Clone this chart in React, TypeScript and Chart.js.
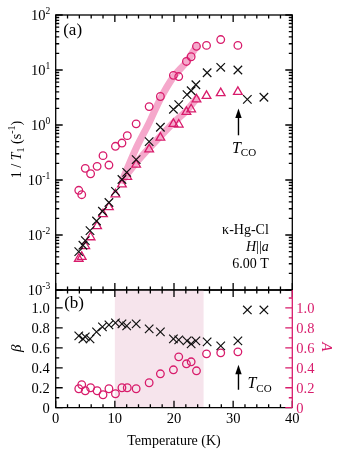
import React, { useEffect, useRef } from 'react';
import { Chart, registerables } from 'chart.js';

Chart.register(...registerables);

// ---------------- data ----------------
// single-exponential fit (black crosses)
const tempSingle = [3.9, 4.6, 5.0, 5.8, 6.9, 7.9, 9.0, 10.1, 11.2, 12.0, 13.6, 15.8, 17.7, 19.9, 20.8, 22.2, 22.9, 23.7, 25.6, 27.9, 30.8, 32.4, 35.2];
const rateSingle = [0.005, 0.0065, 0.0079, 0.012, 0.018, 0.027, 0.039, 0.062, 0.102, 0.138, 0.234, 0.5, 0.91, 1.93, 2.35, 3.57, 4.2, 5.4, 8.9, 11.2, 10.0, 2.93, 3.2];
const betaSingle = [0.72, 0.69, 0.71, 0.69, 0.76, 0.81, 0.83, 0.85, 0.84, 0.82, 0.84, 0.79, 0.76, 0.69, 0.68, 0.67, 0.64, 0.67, 0.66, 0.62, 0.67, 0.98, 0.98];

// two-component fit (pink circles = fast, pink triangles = slow)
const tempTwo = [3.9, 4.4, 5.0, 5.9, 7.0, 8.0, 9.0, 10.1, 11.2, 12.1, 13.6, 15.8, 17.7, 19.9, 20.8, 22.1, 22.9, 23.8, 25.5, 27.9, 30.8];
const rateFast = [0.065, 0.054, 0.163, 0.13, 0.177, 0.277, 0.187, 0.41, 0.47, 0.64, 1.05, 2.16, 3.3, 8.0, 7.6, 14.3, 17.4, 27, 28, 35.8, 28];
const rateSlow = [0.0037, 0.004, 0.0063, 0.0091, 0.0145, 0.024, 0.032, 0.055, 0.083, 0.114, 0.19, 0.36, 0.59, 1.05, 1.02, 1.73, 1.93, 2.93, 3.38, 3.8, 4.0];
const weightFast = [0.19, 0.23, 0.17, 0.2, 0.17, 0.13, 0.19, 0.14, 0.2, 0.2, 0.19, 0.25, 0.34, 0.38, 0.51, 0.44, 0.46, 0.37, 0.54, 0.55, 0.56];

// thick guide curves
const guideTemps = [11.3, 13.5, 15.8, 17.7, 19.9, 22.1, 23.8];
const guideFast = [0.1, 0.36, 1.1, 3.0, 7.5, 14, 27];
const guideSlow = [0.1, 0.2, 0.38, 0.62, 1.1, 1.8, 3.0];

// axes
const xRange = [0, 40];
const xMajorTicks = [0, 10, 20, 30, 40];
const logExponents = [-3, -2, -1, 0, 1, 2];
const linTicks = [0, 0.2, 0.4, 0.6, 0.8, 1.0];
const linTickLabels = ['0', '0.2', '0.4', '0.6', '0.8', '1.0'];
const linMax = 1.18;
const shadeRange = [10, 25];
const tcoTemp = 30.9;
const tcoArrowTop = [0.65, 2.0];
const tcoArrowBottom = [0.18, 0.43];

// ---------------- styles ----------------
const PINK = '#d81b6b';
const BAND = '#f5a8cb';
const SHADE = '#f6e4ec';
const SERIF = '"Liberation Serif", "Times New Roman", "DejaVu Serif", serif';

type Seg = { t: string; size: number; italic?: boolean; dy?: number; color?: string };

const font = (size: number, italic?: boolean) => `${italic ? 'italic ' : ''}${size}px ${SERIF}`;

function richWidth(ctx: CanvasRenderingContext2D, segs: Seg[]) {
  let w = 0;
  for (const s of segs) {
    ctx.font = font(s.size, s.italic);
    w += ctx.measureText(s.t).width;
  }
  return w;
}

function drawRich(ctx: CanvasRenderingContext2D, segs: Seg[], x: number, y: number, align: 'left' | 'center' | 'right', color = '#000') {
  const w = richWidth(ctx, segs);
  let cx = align === 'left' ? x : align === 'center' ? x - w / 2 : x - w;
  ctx.textAlign = 'left';
  ctx.textBaseline = 'alphabetic';
  for (const s of segs) {
    ctx.font = font(s.size, s.italic);
    ctx.fillStyle = s.color || color;
    ctx.fillText(s.t, cx, y + (s.dy || 0));
    cx += ctx.measureText(s.t).width;
  }
}

function drawArrow(ctx: CanvasRenderingContext2D, x: number, tailY: number, tipY: number) {
  ctx.strokeStyle = '#000';
  ctx.fillStyle = '#000';
  ctx.lineWidth = 1.4;
  ctx.beginPath();
  ctx.moveTo(x, tailY);
  ctx.lineTo(x, tipY + 6);
  ctx.stroke();
  ctx.beginPath();
  ctx.moveTo(x, tipY);
  ctx.lineTo(x - 3.2, tipY + 9.5);
  ctx.lineTo(x + 3.2, tipY + 9.5);
  ctx.closePath();
  ctx.fill();
}

function drawXTicks(ctx: CanvasRenderingContext2D, chart: any) {
  const a = chart.chartArea;
  const xs = chart.scales.x;
  ctx.beginPath();
  for (let v = xRange[0]; v <= xRange[1]; v += 2) {
    const px = xs.getPixelForValue(v);
    const len = xMajorTicks.includes(v) ? 7 : 3.5;
    ctx.moveTo(px, a.top);
    ctx.lineTo(px, a.top + len);
    ctx.moveTo(px, a.bottom);
    ctx.lineTo(px, a.bottom - len);
  }
  ctx.stroke();
}

const TCO: Seg[] = [
  { t: 'T', size: 16, italic: true },
  { t: 'CO', size: 11, dy: 3.5 },
];

const topDecor = {
  id: 'topDecor',
  afterDraw(chart: any) {
    const { ctx, chartArea: a, scales } = chart;
    const xs = scales.x;
    const ys = scales.y;
    ctx.save();
    ctx.strokeStyle = '#000';
    ctx.lineWidth = 1.3;
    ctx.strokeRect(a.left, a.top, a.right - a.left, a.bottom - a.top);
    drawXTicks(ctx, chart);
    ctx.beginPath();
    for (const e of logExponents) {
      for (let m = 1; m <= 9; m++) {
        const v = m * Math.pow(10, e);
        if (v > 100.0001) break;
        const py = ys.getPixelForValue(v);
        const len = m === 1 ? 7 : 3.5;
        ctx.moveTo(a.left, py);
        ctx.lineTo(a.left + len, py);
        ctx.moveTo(a.right, py);
        ctx.lineTo(a.right - len, py);
      }
    }
    ctx.stroke();

    // tick labels 10^n
    for (const e of logExponents) {
      const py = ys.getPixelForValue(Math.pow(10, e));
      drawRich(ctx, [
        { t: '10', size: 14.5 },
        { t: String(e), size: 9.5, dy: -6.5 },
      ], a.left - 5.5, py + 5, 'right');
    }

    // y title
    ctx.save();
    ctx.translate(20.5, 149.5);
    ctx.rotate(-Math.PI / 2);
    drawRich(ctx, [
      { t: '1 / ', size: 14 },
      { t: 'T', size: 14, italic: true },
      { t: '1', size: 10, dy: 3 },
      { t: ' (s', size: 14 },
      { t: '-1', size: 10, dy: -6 },
      { t: ')', size: 14 },
    ], 0, 0, 'center');
    ctx.restore();

    // panel label
    drawRich(ctx, [{ t: '(a)', size: 17 }], a.left + 7.5, a.top + 19.5, 'left');

    // sample info
    const rx = a.right - 23.5;
    drawRich(ctx, [{ t: 'κ-Hg-Cl', size: 14 }], rx, 234, 'right');
    drawRich(ctx, [
      { t: 'H', size: 14, italic: true },
      { t: '||', size: 14 },
      { t: 'a', size: 14, italic: true },
    ], rx, 251, 'right');
    drawRich(ctx, [{ t: '6.00 T', size: 14 }], rx, 267.5, 'right');

    // T_CO arrow
    const ax = xs.getPixelForValue(tcoTemp);
    const tail = ys.getPixelForValue(tcoArrowTop[0]);
    const tip = ys.getPixelForValue(tcoArrowTop[1]);
    drawArrow(ctx, ax, tail, tip);
    drawRich(ctx, TCO, ax - 6.5, tail + 17.5, 'left');
    ctx.restore();
  },
};

const bottomShade = {
  id: 'bottomShade',
  beforeDatasetsDraw(chart: any) {
    const { ctx, chartArea: a, scales } = chart;
    const x0 = scales.x.getPixelForValue(shadeRange[0]);
    const x1 = scales.x.getPixelForValue(shadeRange[1]);
    ctx.save();
    ctx.fillStyle = SHADE;
    ctx.fillRect(x0, a.top, x1 - x0, a.bottom - a.top);
    ctx.restore();
  },
  afterDraw(chart: any) {
    const { ctx, chartArea: a, scales } = chart;
    const xs = scales.x;
    const ys = scales.y;
    const y2 = scales.y2;
    ctx.save();
    ctx.strokeStyle = '#000';
    ctx.lineWidth = 1.3;
    ctx.beginPath();
    ctx.moveTo(a.right, a.top);
    ctx.lineTo(a.left, a.top);
    ctx.lineTo(a.left, a.bottom);
    ctx.lineTo(a.right, a.bottom);
    ctx.stroke();
    drawXTicks(ctx, chart);

    // left ticks
    ctx.beginPath();
    for (let i = 0; i <= 11; i++) {
      const v = i / 10;
      const py = ys.getPixelForValue(v);
      const len = i % 2 === 0 ? 7 : 3.5;
      ctx.moveTo(a.left, py);
      ctx.lineTo(a.left + len, py);
    }
    ctx.stroke();

    // right axis (pink)
    ctx.strokeStyle = PINK;
    ctx.beginPath();
    ctx.moveTo(a.right, a.top);
    ctx.lineTo(a.right, a.bottom);
    for (let i = 0; i <= 11; i++) {
      const v = i / 10;
      const py = y2.getPixelForValue(v);
      const len = i % 2 === 0 ? 7 : 3.5;
      ctx.moveTo(a.right, py);
      ctx.lineTo(a.right - len, py);
    }
    ctx.stroke();

    // tick labels
    linTicks.forEach((v, i) => {
      drawRich(ctx, [{ t: linTickLabels[i], size: 14.5 }], a.left - 6, ys.getPixelForValue(v) + 4.8, 'right');
      drawRich(ctx, [{ t: linTickLabels[i], size: 14.5 }], a.right + 4, y2.getPixelForValue(v) + 4.8, 'left', PINK);
    });
    xMajorTicks.forEach((v) => {
      drawRich(ctx, [{ t: String(v), size: 14.5 }], xs.getPixelForValue(v), a.bottom + 15, 'center');
    });

    // titles
    drawRich(ctx, [{ t: 'Temperature (K)', size: 14 }], (a.left + a.right) / 2, a.bottom + 37.5, 'center');
    ctx.save();
    ctx.translate(21, (a.top + a.bottom) / 2 - 0.5);
    ctx.rotate(-Math.PI / 2);
    drawRich(ctx, [{ t: 'β', size: 15, italic: true }], 0, 0, 'center');
    ctx.restore();
    ctx.save();
    ctx.translate(322, (a.top + a.bottom) / 2 - 2);
    ctx.rotate(Math.PI / 2);
    drawRich(ctx, [{ t: 'A', size: 15, italic: true }], 0, 0, 'center', PINK);
    ctx.restore();

    drawRich(ctx, [{ t: '(b)', size: 17 }], a.left + 8.5, a.top + 17.5, 'left');

    const ax = xs.getPixelForValue(tcoTemp);
    const tail = ys.getPixelForValue(tcoArrowBottom[0]);
    const tip = ys.getPixelForValue(tcoArrowBottom[1]);
    drawArrow(ctx, ax, tail, tip);
    drawRich(ctx, TCO, ax + 9, tail - 1.7, 'left');
    ctx.restore();
  },
};

const pts = (xs: number[], ys: number[]) => xs.map((x, i) => ({ x, y: ys[i] }));

export default function App() {
  const topRef = useRef<HTMLCanvasElement>(null);
  const botRef = useRef<HTMLCanvasElement>(null);

  useEffect(() => {
    const hidden = { display: false };
    const top = new Chart(topRef.current as HTMLCanvasElement, {
      type: 'scatter',
      data: {
        datasets: [
          {
            data: pts(tempSingle, rateSingle),
            pointStyle: 'crossRot',
            pointRadius: 6,
            borderColor: '#111',
            backgroundColor: '#111',
            borderWidth: 1.2,
            order: 0,
          },
          {
            data: pts(tempTwo, rateSlow),
            pointStyle: 'triangle',
            pointRadius: 5,
            borderColor: PINK,
            backgroundColor: 'rgba(0,0,0,0)',
            borderWidth: 1.3,
            order: 1,
          },
          {
            data: pts(tempTwo, rateFast),
            pointStyle: 'circle',
            pointRadius: 3.8,
            borderColor: PINK,
            backgroundColor: 'rgba(0,0,0,0)',
            borderWidth: 1.3,
            order: 2,
          },
          {
            data: pts(guideTemps, guideFast),
            showLine: true,
            pointRadius: 0,
            borderColor: BAND,
            borderWidth: 7,
            cubicInterpolationMode: 'monotone',
            borderCapStyle: 'round',
            order: 5,
          },
          {
            data: pts(guideTemps, guideSlow),
            showLine: true,
            pointRadius: 0,
            borderColor: BAND,
            borderWidth: 7,
            cubicInterpolationMode: 'monotone',
            borderCapStyle: 'round',
            order: 6,
          },
        ],
      },
      options: {
        responsive: false,
        animation: false,
        events: [],
        layout: { padding: { left: 55.7, right: 46.7, top: 15, bottom: 10 } },
        plugins: { legend: hidden, tooltip: { enabled: false } },
        scales: {
          x: { type: 'linear', min: xRange[0], max: xRange[1], display: false },
          y: { type: 'logarithmic', min: 1e-3, max: 1e2, display: false },
        },
      } as any,
      plugins: [topDecor],
    });

    const bot = new Chart(botRef.current as HTMLCanvasElement, {
      type: 'scatter',
      data: {
        datasets: [
          {
            data: pts(tempSingle, betaSingle),
            pointStyle: 'crossRot',
            pointRadius: 6,
            borderColor: '#111',
            backgroundColor: '#111',
            borderWidth: 1.2,
            yAxisID: 'y',
            order: 0,
          },
          {
            data: pts(tempTwo, weightFast),
            pointStyle: 'circle',
            pointRadius: 3.8,
            borderColor: PINK,
            backgroundColor: 'rgba(0,0,0,0)',
            borderWidth: 1.3,
            yAxisID: 'y2',
            order: 1,
          },
        ],
      },
      options: {
        responsive: false,
        animation: false,
        events: [],
        layout: { padding: { left: 55.7, right: 46.7, top: 10, bottom: 45.3 } },
        plugins: { legend: hidden, tooltip: { enabled: false } },
        scales: {
          x: { type: 'linear', min: xRange[0], max: xRange[1], display: false },
          y: { type: 'linear', min: 0, max: linMax, display: false },
          y2: { type: 'linear', position: 'right', min: 0, max: linMax, display: false },
        },
      } as any,
      plugins: [bottomShade],
    });

    return () => {
      top.destroy();
      bot.destroy();
    };
  }, []);

  return (
    <div style={{ position: 'fixed', left: 0, top: 0, width: 339, height: 453, background: '#fff' }}>
      <canvas ref={topRef} width={339} height={300} style={{ position: 'absolute', left: 0, top: 0, width: 339, height: 300 }} />
      <canvas ref={botRef} width={339} height={173} style={{ position: 'absolute', left: 0, top: 280, width: 339, height: 173 }} />
    </div>
  );
}
